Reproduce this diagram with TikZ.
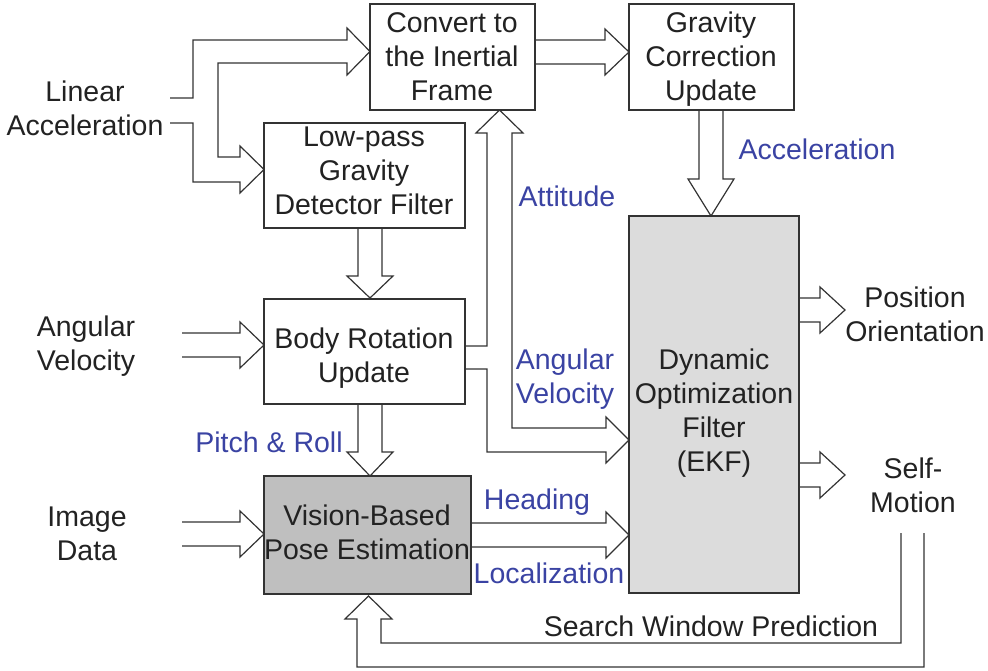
\documentclass[tikz,border=0pt]{standalone}
\usepackage{fontspec}
\setmainfont{Liberation Sans}
\usetikzlibrary{calc}
\definecolor{linec}{HTML}{333333}
\definecolor{txtc}{HTML}{222222}
\definecolor{bluec}{HTML}{3A43A3}
\definecolor{visfill}{HTML}{BFBFBF}
\definecolor{ekffill}{HTML}{DCDCDC}

% Straight hollow arrows: #1 tail point, #2 tip point, #3 head length
\newcommand\hollowR[3]{%
  \draw[conn] let \p1=(#1), \p2=(#2) in
    (\x1,\y2+12pt) -- (\x2-#3,\y2+12pt) -- (\x2-#3,\y2+23pt) -- (\x2,\y2)
    -- (\x2-#3,\y2-23pt) -- (\x2-#3,\y2-12pt) -- (\x1,\y2-12pt);}
\newcommand\hollowD[3]{%
  \draw[conn] let \p1=(#1), \p2=(#2) in
    (\x2-12pt,\y1) -- (\x2-12pt,\y2+#3) -- (\x2-23pt,\y2+#3) -- (\x2,\y2)
    -- (\x2+23pt,\y2+#3) -- (\x2+12pt,\y2+#3) -- (\x2+12pt,\y1);}

\begin{document}
\begin{tikzpicture}[x=1pt,y=-1pt,
  conn/.style={draw=linec,line width=1.2pt,line join=miter},
  blk/.style={draw=linec,line width=1.2pt,fill=white,inner sep=0pt},
  txt/.style={font=\fontsize{28.5}{34}\selectfont,text=txtc,align=center,inner sep=0pt},
  lbl/.style={font=\fontsize{28.5}{34}\selectfont,text=bluec,align=center,inner sep=0pt}]
\useasboundingbox (0,0) rectangle (988,671);

% processing blocks
\node[blk,minimum width=165pt,minimum height=106pt] (conv) at (452.5,57) {};
\node[blk,minimum width=165pt,minimum height=106pt] (grav) at (711.5,57) {};
\node[blk,minimum width=201pt,minimum height=105pt] (lowp) at (364.5,175.5) {};
\node[blk,minimum width=201pt,minimum height=105pt] (body) at (364.5,351.5) {};
\node[blk,fill=visfill,minimum width=207pt,minimum height=118pt] (vis) at (367.5,535) {};
\node[blk,fill=ekffill,minimum width=170pt,minimum height=377pt] (ekf) at (714,404.5) {};

\node[txt] (convt) at (452,57) {Convert to\\the Inertial\\Frame};
\node[txt] (gravt) at (711,59) {Gravity\\Correction\\Update};
\node[txt] (lowpt) at (364,171) {Low-pass\\Gravity\\Detector Filter};
\node[txt] (bodyt) at (364,358) {Body Rotation\\Update};
\node[txt] (vist) at (367,532) {Vision-Based\\Pose Estimation};
\node[txt] (ekft) at (714,413) {Dynamic\\Optimization\\Filter\\(EKF)};

% external inputs and outputs
\node[txt] (linacc) at (85,108) {Linear\\Acceleration};
\node[txt] (angvel) at (86,346) {Angular\\Velocity};
\node[txt] (imgdat) at (87,533.5) {Image\\Data};
\node[txt] (posor) at (915,314) {Position\\Orientation};
\node[txt] (selfm) at (913,485) {Self-\\Motion};
\node[txt] (swp) at (711,626) {Search Window Prediction};

% signal labels
\node[lbl] (l1) at (817,149) {Acceleration};
\node[lbl] (l2) at (567,196) {Attitude};
\node[lbl] (l3) at (565,379) {Angular\\Velocity};
\node[lbl] (l4) at (269,442) {Pitch \& Roll};
\node[lbl] (l5) at (537,502) {Heading};
\node[lbl] (l6) at (549,573) {Localization};

% anchor points for arrow ends
\coordinate (avtail) at (182,345);
\coordinate (bodyin) at (264,345);
\coordinate (imtail) at (182,534);
\coordinate (visin) at (264,534);
\coordinate (convout) at (conv.east |- 0,52);
\coordinate (gravin) at (629,52);
\coordinate (visout) at (471,535);
\coordinate (ekfin) at (629,535);
\coordinate (ekfout1) at (799,310);
\coordinate (posin) at (845,310);
\coordinate (ekfout2) at (799,475);
\coordinate (selfin) at (845,475);
\coordinate (lowpout) at (370,228);
\coordinate (bodytop) at (370,298);
\coordinate (bodyout) at (370,404);
\coordinate (vistop) at (370,476);
\coordinate (gravout) at (711,110);
\coordinate (ekftop) at (711,216);

\hollowR{avtail}{bodyin}{24pt}
\hollowR{imtail}{visin}{24pt}
\hollowR{convout}{gravin}{24pt}
\hollowR{visout}{ekfin}{23pt}
\hollowR{ekfout1}{posin}{25pt}
\hollowR{ekfout2}{selfin}{25pt}
\hollowD{lowpout}{bodytop}{22pt}
\hollowD{bodyout}{vistop}{24pt}
\hollowD{gravout}{ekftop}{37pt}

% linear acceleration split to both blocks
\draw[conn] (170,98) -- (193,98) -- (193,40) -- (347,40) -- (347,28) -- (370,51.5)
  -- (347,75) -- (347,63) -- (218,63) -- (218,157) -- (240,157) -- (240,146)
  -- (264,169.5) -- (240,193) -- (240,182) -- (193,182) -- (193,123) -- (170,123);

% attitude and angular velocity split from the body rotation block
\draw[conn] (464.5,346) -- (487,346) -- (487,133) -- (476,133) -- (499.5,110)
  -- (523,133) -- (512,133) -- (512,428) -- (606,428) -- (606,417) -- (629,440)
  -- (606,463) -- (606,452) -- (487,452) -- (487,369) -- (464.5,369);

% search window feedback
\draw[conn] (901,533) -- (901,643) -- (381,643) -- (381,619) -- (392,619)
  -- (368.5,596) -- (345,619) -- (357,619) -- (357,667) -- (924,667) -- (924,533);
\end{tikzpicture}
\end{document}
